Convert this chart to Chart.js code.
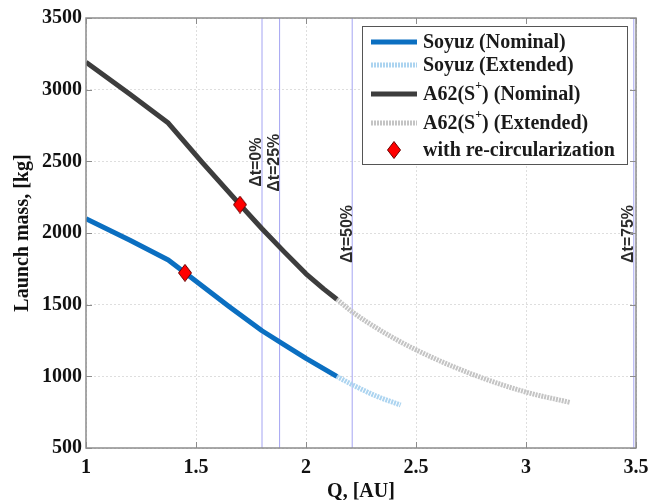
<!DOCTYPE html>
<html>
<head>
<meta charset="utf-8">
<script src="https://cdn.jsdelivr.net/npm/chart.js@4.4.1/dist/chart.umd.min.js"></script>
<style>
  html, body { margin: 0; padding: 0; background: #fff; }
  #wrap { width: 662px; height: 500px; }
</style>
</head>
<body>
<div id="wrap"><canvas id="massChart" width="662" height="500"></canvas></div>
<script>
// Q [AU] vs launch mass [kg]
const soyuzNomQ = [1.0, 1.2, 1.374, 1.45, 1.65, 1.8, 1.9, 2.0, 2.14];
const soyuzNomM = [2100, 1950, 1812, 1722, 1487, 1318, 1222, 1125, 1000];
const soyuzExtQ = [2.14, 2.21, 2.32, 2.43];
const soyuzExtM = [1000, 942, 862, 800];

const a62NomQ = [1.0, 1.2, 1.374, 1.53, 1.70, 1.8, 1.9, 2.0, 2.08, 2.14];
const a62NomM = [3192, 2968, 2767, 2490, 2198, 2030, 1870, 1715, 1610, 1538];
const a62ExtQ = [2.14, 2.21, 2.35, 2.5, 2.75, 3.0, 3.2];
const a62ExtM = [1538, 1450, 1310, 1185, 1018, 890, 818];

const recircQ = [1.45, 1.70];
const recircM = [1722, 2198];

const dtQ = [1.80, 1.88, 2.21, 3.49];
const dtLabels = ['\u0394t=0%', '\u0394t=25%', '\u0394t=50%', '\u0394t=75%'];

const xTicks = [1, 1.5, 2, 2.5, 3, 3.5];
const yTicks = [500, 1000, 1500, 2000, 2500, 3000, 3500];

const seriesNames = ['Soyuz (Nominal)', 'Soyuz (Extended)', 'A62(S+) (Nominal)', 'A62(S+) (Extended)', 'with re-circularization'];

const pts = (qs, ms) => qs.map((q, i) => ({ x: q, y: ms[i] }));

// red diamond, a bit taller than wide
function diamond() {
    const c = document.createElement('canvas');
    c.width = 14; c.height = 18;
    const g = c.getContext('2d');
    g.beginPath();
    g.moveTo(7, 0.5); g.lineTo(13.5, 9); g.lineTo(7, 17.5); g.lineTo(0.5, 9);
    g.closePath();
    g.fillStyle = '#ff0000';
    g.fill();
    g.strokeStyle = '#6a0000';
    g.lineWidth = 1;
    g.stroke();
    return c;
}
const diamondImg = diamond();

const SERIF = '"Liberation Serif", "Times New Roman", serif';
const SANS = '"Liberation Sans", Arial, sans-serif';

const datasets = [
    { label: seriesNames[4], data: pts(recircQ, recircM), showLine: false,
      pointStyle: diamondImg, pointRadius: 8, order: 0 },
    { label: seriesNames[0], data: pts(soyuzNomQ, soyuzNomM), borderColor: '#0b6fc1',
      borderWidth: 5, pointRadius: 0, showLine: true, tension: 0, borderJoinStyle: 'round', order: 1 },
    { label: seriesNames[2], data: pts(a62NomQ, a62NomM), borderColor: '#3d3d3d',
      borderWidth: 5, pointRadius: 0, showLine: true, tension: 0, borderJoinStyle: 'round', order: 1 },
    { label: seriesNames[1], data: pts(soyuzExtQ, soyuzExtM), borderColor: '#acd4f0',
      borderWidth: 5, borderDash: [2, 1], pointRadius: 0, showLine: true, cubicInterpolationMode: 'monotone', order: 2 },
    { label: seriesNames[3], data: pts(a62ExtQ, a62ExtM), borderColor: '#c4c4c4',
      borderWidth: 5, borderDash: [2, 1], pointRadius: 0, showLine: true, cubicInterpolationMode: 'monotone', order: 2 }
];
dtQ.forEach((q, i) => {
    datasets.push({
        label: dtLabels[i], data: [{ x: q, y: yTicks[0] }, { x: q, y: yTicks[yTicks.length - 1] }],
        borderColor: '#a4a4f2', borderWidth: 1, pointRadius: 0, showLine: true, order: 5
    });
});

// frame, inward ticks, Δt labels and the boxed legend
const decorations = {
    id: 'decorations',
    afterDatasetsDraw(chart) {
        const { ctx, chartArea: a, scales: { x, y } } = chart;
        ctx.save();

        // Δt labels, rotated, just left of their lines
        const dtBottom = [2322, 2287, 1790, 1790];
        ctx.font = 'bold 16px ' + SANS;
        ctx.fillStyle = '#2b2b2b';
        ctx.textBaseline = 'middle';
        ctx.textAlign = 'left';
        dtQ.forEach((q, i) => {
            ctx.save();
            ctx.translate(x.getPixelForValue(q) - 5, y.getPixelForValue(dtBottom[i]));
            ctx.rotate(-Math.PI / 2);
            ctx.fillText(dtLabels[i], 0, 0);
            ctx.restore();
        });

        // plot frame
        ctx.strokeStyle = '#8c8c8c';
        ctx.lineWidth = 1.5;
        ctx.strokeRect(a.left, a.top, a.right - a.left, a.bottom - a.top);
        ctx.lineWidth = 1;
        ctx.beginPath();
        xTicks.forEach(v => {
            const px = Math.round(x.getPixelForValue(v)) + 0.5;
            ctx.moveTo(px, a.bottom); ctx.lineTo(px, a.bottom - 6);
            ctx.moveTo(px, a.top); ctx.lineTo(px, a.top + 6);
        });
        yTicks.forEach(v => {
            const py = Math.round(y.getPixelForValue(v)) + 0.5;
            ctx.moveTo(a.left, py); ctx.lineTo(a.left + 6, py);
            ctx.moveTo(a.right, py); ctx.lineTo(a.right - 6, py);
        });
        ctx.stroke();

        // legend box
        const lx = 362, ly = 26, lw = 265, lh = 138;
        ctx.fillStyle = '#fff';
        ctx.fillRect(lx, ly, lw, lh);
        ctx.strokeStyle = '#555';
        ctx.lineWidth = 1;
        ctx.strokeRect(lx + 0.5, ly + 0.5, lw, lh);

        const rows = [
            { ds: datasets[1], y: 42 },
            { ds: datasets[3], y: 65 },
            { ds: datasets[2], y: 94 },
            { ds: datasets[4], y: 123 },
            { ds: datasets[0], y: 150 }
        ];
        const textX = 423;
        rows.forEach(r => {
            const ds = r.ds;
            if (ds.showLine) {
                ctx.strokeStyle = ds.borderColor;
                ctx.lineWidth = 5;
                ctx.setLineDash(ds.borderDash || []);
                ctx.beginPath();
                ctx.moveTo(371, r.y); ctx.lineTo(417, r.y);
                ctx.stroke();
                ctx.setLineDash([]);
            } else {
                ctx.drawImage(diamondImg, 394 - 7, r.y - 9);
            }
            ctx.fillStyle = '#1a1a1a';
            ctx.textAlign = 'left';
            ctx.textBaseline = 'middle';
            const label = ds.label;
            const plus = label.indexOf('+');
            ctx.font = 'bold 20px ' + SERIF;
            if (plus < 0) {
                ctx.fillText(label, textX, r.y + 1);
            } else {
                const head = label.slice(0, plus), tail = label.slice(plus + 1);
                ctx.fillText(head, textX, r.y + 1);
                let cx = textX + ctx.measureText(head).width;
                ctx.font = 'bold 12px ' + SERIF;
                ctx.fillText('+', cx, r.y - 8);
                cx += ctx.measureText('+').width;
                ctx.font = 'bold 20px ' + SERIF;
                ctx.fillText(tail, cx, r.y + 1);
            }
        });
        ctx.restore();
    }
};

new Chart(document.getElementById('massChart'), {
    type: 'scatter',
    data: { datasets },
    options: {
        responsive: false,
        animation: false,
        devicePixelRatio: 1,
        layout: { padding: { left: 0, right: 26, top: 18, bottom: 0 } },
        plugins: { legend: { display: false }, tooltip: { enabled: false } },
        scales: {
            x: {
                type: 'linear',
                min: xTicks[0], max: xTicks[xTicks.length - 1],
                afterBuildTicks: s => { s.ticks = xTicks.map(v => ({ value: v })); },
                afterFit: s => { s.height = 52; },
                ticks: {
                    padding: 8, color: '#111', maxRotation: 0,
                    font: { family: SERIF, size: 20, weight: 'bold' },
                    callback: v => String(v)
                },
                grid: { color: '#dedede', drawTicks: false },
                border: { display: false, dash: [2, 2] },
                title: {
                    display: true, text: 'Q, [AU]', color: '#111',
                    font: { family: SERIF, size: 20, weight: 'bold', lineHeight: 1 },
                    padding: { top: 0, bottom: -2 }
                }
            },
            y: {
                type: 'linear',
                min: yTicks[0], max: yTicks[yTicks.length - 1],
                afterBuildTicks: s => { s.ticks = yTicks.map(v => ({ value: v })); },
                afterFit: s => { s.width = 86; },
                ticks: {
                    padding: 4, color: '#111',
                    font: { family: SERIF, size: 20, weight: 'bold' },
                    callback: v => String(v)
                },
                grid: { color: '#dedede', drawTicks: false },
                border: { display: false, dash: [2, 2] },
                title: {
                    display: true, text: 'Launch mass, [kg]', color: '#111',
                    font: { family: SERIF, size: 20, weight: 'bold', lineHeight: 1 },
                    padding: { top: 13, bottom: 0 }
                }
            }
        }
    },
    plugins: [decorations]
});
</script>
</body>
</html>
